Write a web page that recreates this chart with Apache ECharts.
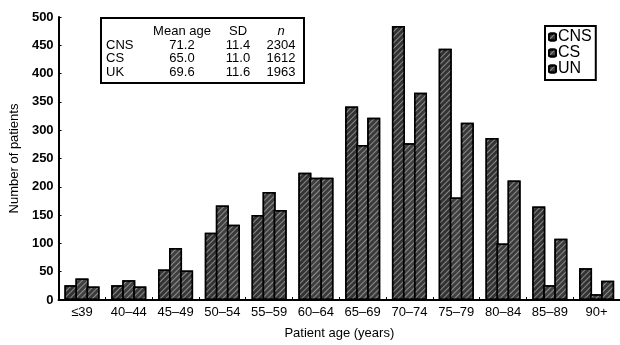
<!DOCTYPE html>
<html><head><meta charset="utf-8">
<script src="https://cdn.jsdelivr.net/npm/echarts@6/dist/echarts.min.js"></script>
<style>html,body{margin:0;padding:0;background:#fff}#c{width:620px;height:345px}</style>
</head><body><div id="c"></div>
<script>
var categories = ['≤39','40–44','45–49','50–54','55–59','60–64','65–69','70–74','75–79','80–84','85–89','90+'];
var cnsValues = [26, 26, 54, 119, 150, 225, 342, 484, 444, 286, 165, 56];
var csValues  = [38, 35, 92, 167, 191, 216, 274, 277, 181, 100, 26, 10];
var unValues  = [24, 24, 52, 133, 159, 216, 322, 366, 313, 211, 108, 34];
var seriesNames = ['CNS', 'CS', 'UN'];
var yTicks = [0, 50, 100, 150, 200, 250, 300, 350, 400, 450, 500];
var tableHeader = ['', 'Mean age', 'SD', 'n'];
var tableRows = [
  ['CNS', '71.2', '11.4', '2304'],
  ['CS', '65.0', '11.0', '1612'],
  ['UK', '69.6', '11.6', '1963']
];

var FONT = 'Liberation Sans, Arial, sans-serif';
var chart = echarts.init(document.getElementById('c'), null, {renderer: 'canvas'});

function decal() {
  return {symbol: 'rect', symbolSize: 1, dashArrayX: [1, 0], dashArrayY: [1, 2.4],
          rotation: -Math.PI / 4, color: 'rgba(255,255,255,0.42)'};
}
var fills = ['#333333', '#3f3f3f', '#3a3a3a'];
var dataSets = [cnsValues, csValues, unValues];

var series = seriesNames.map(function (n, i) {
  return {
    name: n, type: 'bar', data: dataSets[i], barWidth: 13, barGap: '-15%',
    itemStyle: {color: fills[i], borderColor: '#000', borderWidth: 1.5, decal: decal()}
  };
});

// table graphic
var colX = [106, 182, 238, 281];
var rowY = [31, 45, 58, 72];
var tableEls = [{type: 'rect', shape: {x: 101, y: 18, width: 203, height: 65},
  style: {fill: '#fff', stroke: '#000', lineWidth: 2}}];
tableHeader.forEach(function (h, j) {
  if (!h) return;
  tableEls.push({type: 'text', x: colX[j], y: rowY[0], style: {text: h, font: (j === 3 ? 'italic ' : '') + '13px ' + FONT,
    fill: '#000', align: 'center', verticalAlign: 'middle'}});
});
var cellAlign = ['left', 'center', 'center', 'center'];
tableRows.forEach(function (r, i) {
  r.forEach(function (c, j) {
    tableEls.push({type: 'text', x: colX[j], y: rowY[i + 1],
      style: {text: c, font: '13px ' + FONT, fill: '#000', align: cellAlign[j], verticalAlign: 'middle'}});
  });
});

chart.setOption({
  animation: false,
  backgroundColor: '#fff',
  grid: {left: 58, right: 0, top: 17, bottom: 38},
  legend: {
    data: seriesNames, orient: 'vertical', left: 545, top: 26,
    itemWidth: 7, itemHeight: 7, itemGap: 0, padding: [3, 4, 3, 3],
    borderColor: '#000', borderWidth: 2, backgroundColor: '#fff',
    textStyle: {fontSize: 16, color: '#000', fontFamily: FONT, padding: [0, 0, 0, -3]}
  },
  xAxis: {
    type: 'category', data: categories,
    name: 'Patient age (years)', nameLocation: 'middle', nameGap: 27,
    nameTextStyle: {fontSize: 13, color: '#000', fontFamily: FONT},
    axisLine: {lineStyle: {color: '#000', width: 2}},
    axisTick: {show: true, inside: true, length: 3, lineStyle: {color: '#000'}},
    axisLabel: {fontSize: 13, color: '#000', fontFamily: FONT, margin: 6, interval: 0}
  },
  yAxis: {
    type: 'value', min: 0, max: 500, interval: 50,
    name: 'Number of patients', nameLocation: 'middle', nameGap: 37,
    nameTextStyle: {fontSize: 13, color: '#000', fontFamily: FONT},
    axisLine: {show: true, lineStyle: {color: '#000', width: 2}},
    axisTick: {show: true, inside: true, length: 3, lineStyle: {color: '#000'}},
    splitLine: {show: false},
    axisLabel: {fontSize: 13, fontWeight: 'bold', color: '#000', fontFamily: FONT, margin: 5,
      formatter: function (v) { return yTicks.indexOf(v) >= 0 ? String(v) : ''; }}
  },
  series: series,
  graphic: [{type: 'group', children: tableEls}]
});
</script></body></html>
